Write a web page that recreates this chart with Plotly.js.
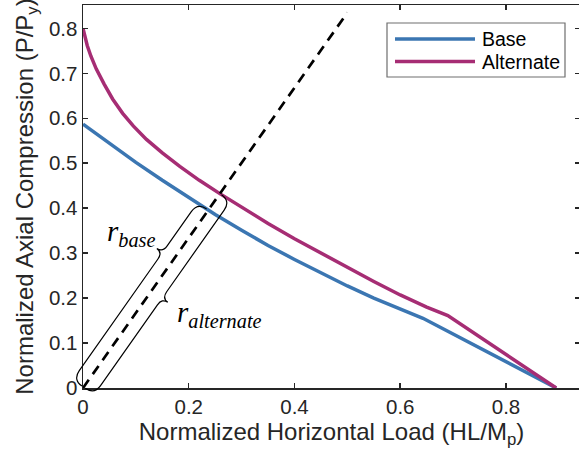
<!DOCTYPE html>
<html><head><meta charset="utf-8">
<script src="https://cdn.plot.ly/plotly-3.0.1.min.js"></script>
<style>html,body{margin:0;padding:0;overflow:hidden;background:#fff}#chart{width:590px;height:454px}</style>
</head><body><div id="chart"></div>
<script>
// ---- data ----
const seriesNames = ['Base', 'Alternate'];
const seriesColors = ['#3B76B2', '#A62D74'];
const baseX = [0, 0.05, 0.10, 0.15, 0.20, 0.25, 0.30, 0.35, 0.40, 0.45, 0.50, 0.55, 0.60, 0.643, 0.895];
const baseY = [0.587, 0.544, 0.502, 0.462, 0.423, 0.386, 0.351, 0.317, 0.286, 0.256, 0.227, 0.200, 0.175, 0.155, 0];
const altX = [0, 0.003, 0.008, 0.015, 0.025, 0.04, 0.056, 0.075, 0.095, 0.12, 0.15, 0.183, 0.22, 0.258, 0.296, 0.35, 0.40, 0.454, 0.50, 0.55, 0.60, 0.65, 0.69, 0.895];
const altY = [0.800, 0.782, 0.762, 0.738, 0.710, 0.676, 0.643, 0.611, 0.583, 0.553, 0.523, 0.493, 0.462, 0.433, 0.405, 0.366, 0.332, 0.297, 0.268, 0.237, 0.207, 0.180, 0.161, 0];
const rayX = [0, 0.5];
const rayY = [0, 0.835];
const xTickVals = [0, 0.2, 0.4, 0.6, 0.8];
const xTickText = ['0', '0.2', '0.4', '0.6', '0.8'];
const yTickVals = [0, 0.1, 0.2, 0.3, 0.4, 0.5, 0.6, 0.7, 0.8];
const yTickText = ['0', '0.1', '0.2', '0.3', '0.4', '0.5', '0.6', '0.7', '0.8'];
const xTitle = 'Normalized Horizontal Load (HL/M<sub>p</sub>)';
const yTitle = 'Normalized Axial Compression (P/P<sub>y</sub>)';
const braceLabels = ['base', 'alternate'];

// ---- geometry ----
const FIGW = 590, FIGH = 454;
const M = {l: 83, r: 10, t: 5, b: 66};
const W = FIGW - M.l - M.r, H = FIGH - M.t - M.b;
const XR = [0, 0.94], YR = [0, 0.852];
const sx = W / (XR[1] - XR[0]), sy = H / (YR[1] - YR[0]);
const toPx = (x, y) => [M.l + (x - XR[0]) * sx, M.t + H - (y - YR[0]) * sy];
const toPaper = (px, py) => [(px - M.l) / W, (M.t + H - py) / H];

const slope = rayY[1] / rayX[1];
function crossing(xs, ys) {
  for (let i = 0; i < xs.length - 1; i++) {
    const f0 = ys[i] - slope * xs[i], f1 = ys[i + 1] - slope * xs[i + 1];
    if (f0 >= 0 && f1 < 0) {
      const t = f0 / (f0 - f1);
      const x = xs[i] + t * (xs[i + 1] - xs[i]);
      return [x, slope * x];
    }
  }
  return null;
}
const O = toPx(0, 0);
const E = toPx(rayX[1], rayY[1]);
const len = Math.hypot(E[0] - O[0], E[1] - O[1]);
const u = [(E[0] - O[0]) / len, (E[1] - O[1]) / len];
const nL = [u[1], -u[0]];
function along(pt) { const p = toPx(pt[0], pt[1]); return (p[0] - O[0]) * u[0] + (p[1] - O[1]) * u[1]; }
const aBase = along(crossing(baseX, baseY));
const aAlt = along(crossing(altX, altY));

function brace(a0, a1, at, side) {
  const B = 13, Tp = 20, R = 11, Lt = 8, e = 2;
  const P = (a, p) => {
    const px = O[0] + u[0] * a + side * nL[0] * p;
    const py = O[1] + u[1] * a + side * nL[1] * p;
    const d = toPaper(px, py);
    return d[0].toFixed(5) + ',' + d[1].toFixed(5);
  };
  return `M${P(a0, e)} Q${P(a0, B)} ${P(a0 + R, B)} L${P(at - Lt, B)} Q${P(at, B)} ${P(at, Tp)} Q${P(at, B)} ${P(at + Lt, B)} L${P(a1 - R, B)} Q${P(a1, B)} ${P(a1, e)}`;
}

const traces = [
  {x: baseX, y: baseY, name: seriesNames[0], mode: 'lines', line: {color: seriesColors[0], width: 3.5}, showlegend: false},
  {x: altX, y: altY, name: seriesNames[1], mode: 'lines', line: {color: seriesColors[1], width: 3.5}, showlegend: false},
  {x: rayX, y: rayY, mode: 'lines', line: {color: '#000', width: 2.7, dash: '10px,7px'}, showlegend: false, hoverinfo: 'skip'}
];

const shapes = [
  {type: 'path', xref: 'paper', yref: 'paper', path: brace(1, aBase, aBase * 0.72, 1), line: {color: '#000', width: 1.2}},
  {type: 'path', xref: 'paper', yref: 'paper', path: brace(1, aAlt, aAlt * 0.5, -1), line: {color: '#000', width: 1.2}}
];
// custom legend
const lb0 = toPaper(387, 23), lb1 = toPaper(565, 77);
shapes.push({type: 'rect', xref: 'paper', yref: 'paper', x0: lb0[0], y0: lb1[1], x1: lb1[0], y1: lb0[1], line: {color: '#6e6e6e', width: 1.2}, fillcolor: '#fff', layer: 'above'});
const legendRows = [39, 61.5];
const annotations = [];
legendRows.forEach((py, i) => {
  const a = toPaper(395, py), b = toPaper(475, py);
  shapes.push({type: 'line', xref: 'paper', yref: 'paper', x0: a[0], y0: a[1], x1: b[0], y1: b[1], line: {color: seriesColors[i], width: 3.5}});
  const t = toPaper(480, py);
  annotations.push({xref: 'paper', yref: 'paper', x: t[0], y: t[1], xanchor: 'left', yanchor: 'middle', text: seriesNames[i], showarrow: false, font: {family: 'Liberation Sans, Arial, sans-serif', size: 19.5, color: '#000'}});
});
const lblPos = [[105, 233], [175, 314]];
braceLabels.forEach((s, i) => {
  const d = toPaper(lblPos[i][0], lblPos[i][1]);
  annotations.push({xref: 'paper', yref: 'paper', x: d[0], y: d[1], xanchor: 'left', yanchor: 'middle', showarrow: false, text: '<i>r<sub>' + s + '</sub></i>', font: {family: 'Liberation Serif, Times New Roman, serif', size: 29, color: '#000'}});
});

const axisCommon = {
  showline: true, linecolor: '#262626', linewidth: 1.5, mirror: 'ticks',
  ticks: 'inside', ticklen: 5, tickwidth: 1.5, tickcolor: '#262626',
  showgrid: false, zeroline: false,
  tickfont: {family: 'Liberation Sans, Arial, sans-serif', size: 20.5, color: '#262626'}
};
const layout = {
  width: FIGW, height: FIGH, margin: M,
  paper_bgcolor: '#fff', plot_bgcolor: '#fff',
  showlegend: false,
  xaxis: Object.assign({}, axisCommon, {range: XR, tickvals: xTickVals, ticktext: xTickText,
    title: {text: xTitle, font: {family: 'Liberation Sans, Arial, sans-serif', size: 24, color: '#262626'}, standoff: 5}}),
  yaxis: Object.assign({}, axisCommon, {range: YR, tickvals: yTickVals, ticktext: yTickText,
    title: {text: yTitle, font: {family: 'Liberation Sans, Arial, sans-serif', size: 24, color: '#262626'}, standoff: 8}}),
  shapes: shapes,
  annotations: annotations
};
Plotly.newPlot('chart', traces, layout, {displayModeBar: false, staticPlot: true});
</script>
</body></html>
